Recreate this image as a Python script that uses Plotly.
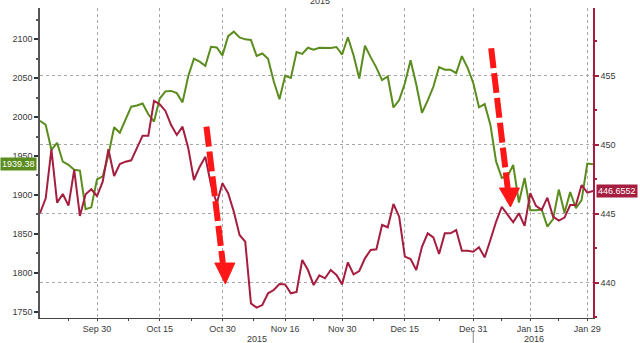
import pandas as pd
import plotly.graph_objects as go

# ---- data -------------------------------------------------------------
dates = [d.strftime("%Y-%m-%d") for d in pd.bdate_range("2015-09-16", "2016-02-01")
         if d.strftime("%Y-%m-%d") != "2016-01-01"]

spx = [1995.31, 1990.20, 1958.03, 1966.97, 1942.74, 1938.76, 1932.24, 1931.34, 1881.77, 1884.09,
       1920.03, 1923.82, 1951.36, 1987.05, 1979.92, 1995.83, 2013.43, 2014.89, 2017.46, 2003.69,
       1994.24, 2023.86, 2033.11, 2033.66, 2030.77, 2018.94, 2052.51, 2075.15, 2071.18, 2065.89,
       2090.35, 2089.41, 2079.36, 2104.05, 2109.79, 2102.31, 2099.93, 2099.20, 2078.58, 2081.72,
       2075.00, 2045.97, 2023.04, 2053.19, 2050.44, 2083.58, 2081.24, 2089.17, 2086.59, 2089.14,
       2088.87, 2088.87, 2090.11, 2080.41, 2102.63, 2079.51, 2049.62, 2091.69, 2077.07, 2063.59,
       2047.62, 2052.23, 2012.37, 2021.94, 2043.41, 2073.07, 2041.89, 2005.55, 2021.15, 2038.97,
       2064.29, 2060.99, 2060.99, 2056.50, 2078.36, 2063.36, 2043.94, 2012.66, 2016.71, 1990.26,
       1943.09, 1922.03, 1923.67, 1938.68, 1890.28, 1921.84, 1880.33, 1880.33, 1881.33, 1859.33,
       1868.99, 1906.90, 1877.08, 1903.63, 1882.95, 1893.36, 1940.24, 1939.38]

red = [445.04, 446.12, 449.68, 445.81, 446.44, 445.59, 448.18, 444.84, 446.42, 446.78,
       446.29, 447.33, 449.68, 447.74, 448.61, 448.78, 448.88, 449.80, 450.67, 450.67,
       453.19, 452.95, 452.46, 451.44, 450.72, 451.32, 449.78, 447.45, 448.40, 449.14,
       447.09, 445.76, 447.21, 446.49, 445.15, 443.46, 442.98, 438.50, 438.19, 438.38,
       439.23, 439.47, 439.91, 439.88, 439.23, 439.33, 441.65, 440.92, 439.83, 440.54,
       440.32, 440.92, 440.56, 439.88, 441.48, 440.61, 440.85, 441.77, 442.37, 442.42,
       444.19, 444.02, 445.71, 444.79, 441.89, 441.72, 440.92, 442.61, 443.58, 443.29,
       442.08, 443.58, 443.58, 443.82, 442.32, 442.32, 442.25, 442.57, 441.84, 443.10,
       444.42, 445.51, 444.91, 444.38, 445.04, 444.12, 446.49, 445.57, 445.28, 446.17,
       444.79, 444.50, 444.72, 445.64, 445.64, 447.09, 446.53, 446.6552]

tick_dates = ["2015-09-30", "2015-10-15", "2015-10-30", "2015-11-16", "2015-11-30",
              "2015-12-15", "2015-12-31", "2016-01-15", "2016-01-29"]
tick_labels = ["Sep 30", "Oct 15", "Oct 30", "Nov 16", "Nov 30", "Dec 15", "Dec 31", "Jan 15", "Jan 29"]

left_ticks = [1750, 1800, 1850, 1900, 1950, 2000, 2050, 2100]
right_ticks = [440, 445, 450, 455]

# ---- styling ------------------------------------------------------------
GREEN = "#5a8c1e"
RED = "#a51d3f"
ARROW = "#ff1616"
TXT = "#3a3a3a"
FONT = "Liberation Sans"

x = list(range(len(dates)))
tickvals = [dates.index(d) for d in tick_dates]
minor_x = [(a + b) / 2 for a, b in zip([0] + tickvals[:-1], tickvals)]

fig = go.Figure()
fig.add_trace(go.Scatter(x=x, y=spx, mode="lines", line=dict(color=GREEN, width=2),
                         yaxis="y", showlegend=False, hoverinfo="skip"))
fig.add_trace(go.Scatter(x=x, y=red, mode="lines", line=dict(color=RED, width=2),
                         yaxis="y2", showlegend=False, hoverinfo="skip"))

# dashed arrows (decorations)
def dashed_arrow(x0, y0, x1, y1, hx0, hx1, hy, tx, ty):
    fig.add_shape(type="line", xref="x", yref="y2", x0=x0, y0=y0, x1=x1, y1=y1,
                  line=dict(color=ARROW, width=6, dash="20px,5px"), layer="above")
    fig.add_shape(type="path", xref="x", yref="y2",
                  path=f"M {hx0},{hy} L {hx1},{hy} L {tx},{ty} Z",
                  fillcolor=ARROW, line=dict(color=ARROW, width=1), layer="above")

dashed_arrow(29.2, 451.32, 32.07, 441.43, 30.67, 34.17, 441.43, 32.51, 439.91)
dashed_arrow(79.14, 457.01, 82.03, 446.87, 80.59, 84.09, 446.87, 82.52, 445.49)

# year separator under Dec 31
fig.add_shape(type="line", xref="x", yref="paper", x0=dates.index("2015-12-31"),
              x1=dates.index("2015-12-31"), y0=-0.04, y1=-0.085,
              line=dict(color="#888", width=1))

annos = [
    dict(x=38.1, y=-0.069, xref="x", yref="paper", text="2015", showarrow=False,
         font=dict(size=9, color=TXT, family=FONT), yanchor="middle"),
    dict(x=86.6, y=-0.069, xref="x", yref="paper", text="2016", showarrow=False,
         font=dict(size=9, color=TXT, family=FONT), yanchor="middle"),
    dict(x=0.506, y=1.021, xref="paper", yref="paper", text="2015", showarrow=False,
         font=dict(size=9, color=TXT, family=FONT), yanchor="middle"),
    dict(x=-0.006, y=spx[-1], xref="paper", yref="y", text=f"{spx[-1]:.2f}", showarrow=False,
         xanchor="right", yanchor="middle", bgcolor=GREEN, borderpad=1,
         font=dict(size=9, color="white", family=FONT)),
    dict(x=1.006, y=red[-1], xref="paper", yref="y2", text=f"{red[-1]:.4f}", showarrow=False,
         xanchor="left", yanchor="middle", bgcolor=RED, borderpad=1,
         font=dict(size=9, color="white", family=FONT)),
]

fig.update_layout(
    width=640, height=343,
    margin=dict(l=40, r=47, t=8, b=25),
    plot_bgcolor="white", paper_bgcolor="white",
    font=dict(family=FONT, size=9, color=TXT),
    annotations=annos,
    xaxis=dict(range=[0, len(dates) - 1], tickmode="array", tickvals=tickvals, ticktext=tick_labels,
               ticks="outside", ticklen=2, tickcolor="#444", showline=True, linecolor="#444",
               linewidth=1, showgrid=True, gridcolor="#a8a8a8", griddash="dot", gridwidth=1,
               zeroline=False, tickfont=dict(size=9, color=TXT),
               minor=dict(tickmode="array", tickvals=minor_x, ticks="outside", ticklen=2,
                          tickcolor="#444", showgrid=False)),
    yaxis=dict(range=[1741.9, 2140.2], tickmode="array", tickvals=left_ticks,
               ticks="outside", ticklen=4, tickwidth=2, tickcolor="#333", showline=True,
               linecolor="#555", linewidth=1.5, showgrid=False, zeroline=False,
               tickfont=dict(size=9, color=TXT),
               minor=dict(tickmode="array", tickvals=[v + 25 for v in left_ticks],
                          ticks="outside", ticklen=2, tickcolor="#555", showgrid=False)),
    yaxis2=dict(range=[437.44, 459.93], overlaying="y", side="right", tickmode="array",
                tickvals=right_ticks, ticks="outside", ticklen=4, tickwidth=2, tickcolor=RED,
                showline=True, linecolor=RED, linewidth=1.5, showgrid=True, gridcolor="#a8a8a8",
                griddash="dot", gridwidth=1, zeroline=False, tickfont=dict(size=9, color=TXT),
                minor=dict(tickmode="array", tickvals=[437.5, 442.5, 447.5, 452.5, 457.5],
                           ticks="outside", ticklen=2, tickcolor=RED, showgrid=False)),
)

fig.write_html("out.html")
